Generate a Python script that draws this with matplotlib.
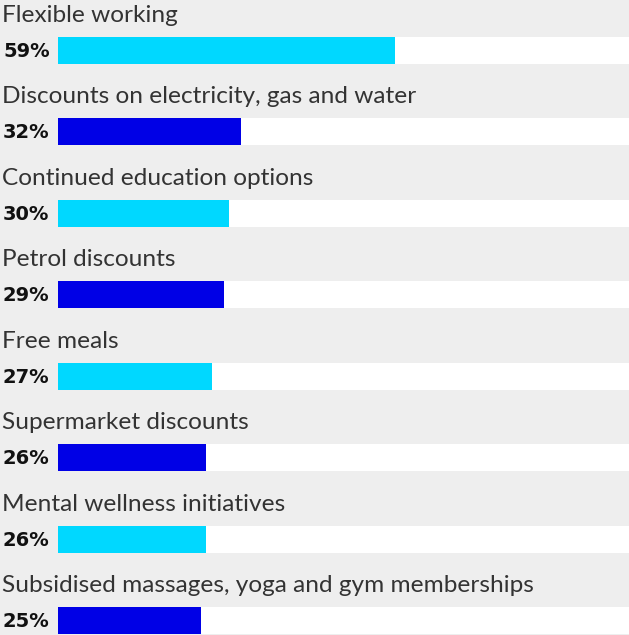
import matplotlib
matplotlib.use("Agg")
import matplotlib.pyplot as plt
import matplotlib.transforms as mtransforms

# Benefits and share of respondents (%)
benefits = [
    "Flexible working",
    "Discounts on electricity, gas and water",
    "Continued education options",
    "Petrol discounts",
    "Free meals",
    "Supermarket discounts",
    "Mental wellness initiatives",
    "Subsidised massages, yoga and gym memberships",
]
shares = [59, 32, 30, 29, 27, 26, 26, 25]

cyan = "#00D8FF"
blue = "#0000E6"
grey_bg = "#EEEEEE"

W, H = 629, 635
fig = plt.figure(figsize=(W / 100, H / 100), dpi=100, facecolor=grey_bg)
plt.rcParams["font.family"] = ["Lato", "DejaVu Sans"]

# bars live in an axes that starts where the white track begins
left_px = 58
ax = fig.add_axes([left_px / W, 0, (W - left_px) / W, 1])
ax.set_facecolor(grey_bg)

pitch = 81.5
bar_h = 27 / pitch
n = len(benefits)
ax.set_xlim(0, 100)
ax.set_ylim(n - 1 + bar_h / 2 + 0.5 / pitch, -(37 + 13.5) / pitch)
ax.axis("off")

ypos = list(range(n))
colors = [cyan if i % 2 == 0 else blue for i in range(n)]
ax.barh(ypos, [100] * n, height=bar_h, color="white", linewidth=0)
ax.barh(ypos, shares, height=bar_h, color=colors, linewidth=0)

trans = mtransforms.blended_transform_factory(fig.transFigure, ax.transData)
for i, (name, val) in enumerate(zip(benefits, shares)):
    ax.text(3 / W, i + 6.5 / pitch, f"{val}%", transform=trans, ha="left",
            va="baseline", fontsize=14, fontweight="bold", color="#111111",
            family="DejaVu Sans", clip_on=False)
    ax.text(2 / W, i - 28.5 / pitch, name, transform=trans, ha="left",
            va="baseline", fontsize=17.6, color="#333333", clip_on=False)

fig.savefig("out.png", dpi=100, facecolor=grey_bg)
